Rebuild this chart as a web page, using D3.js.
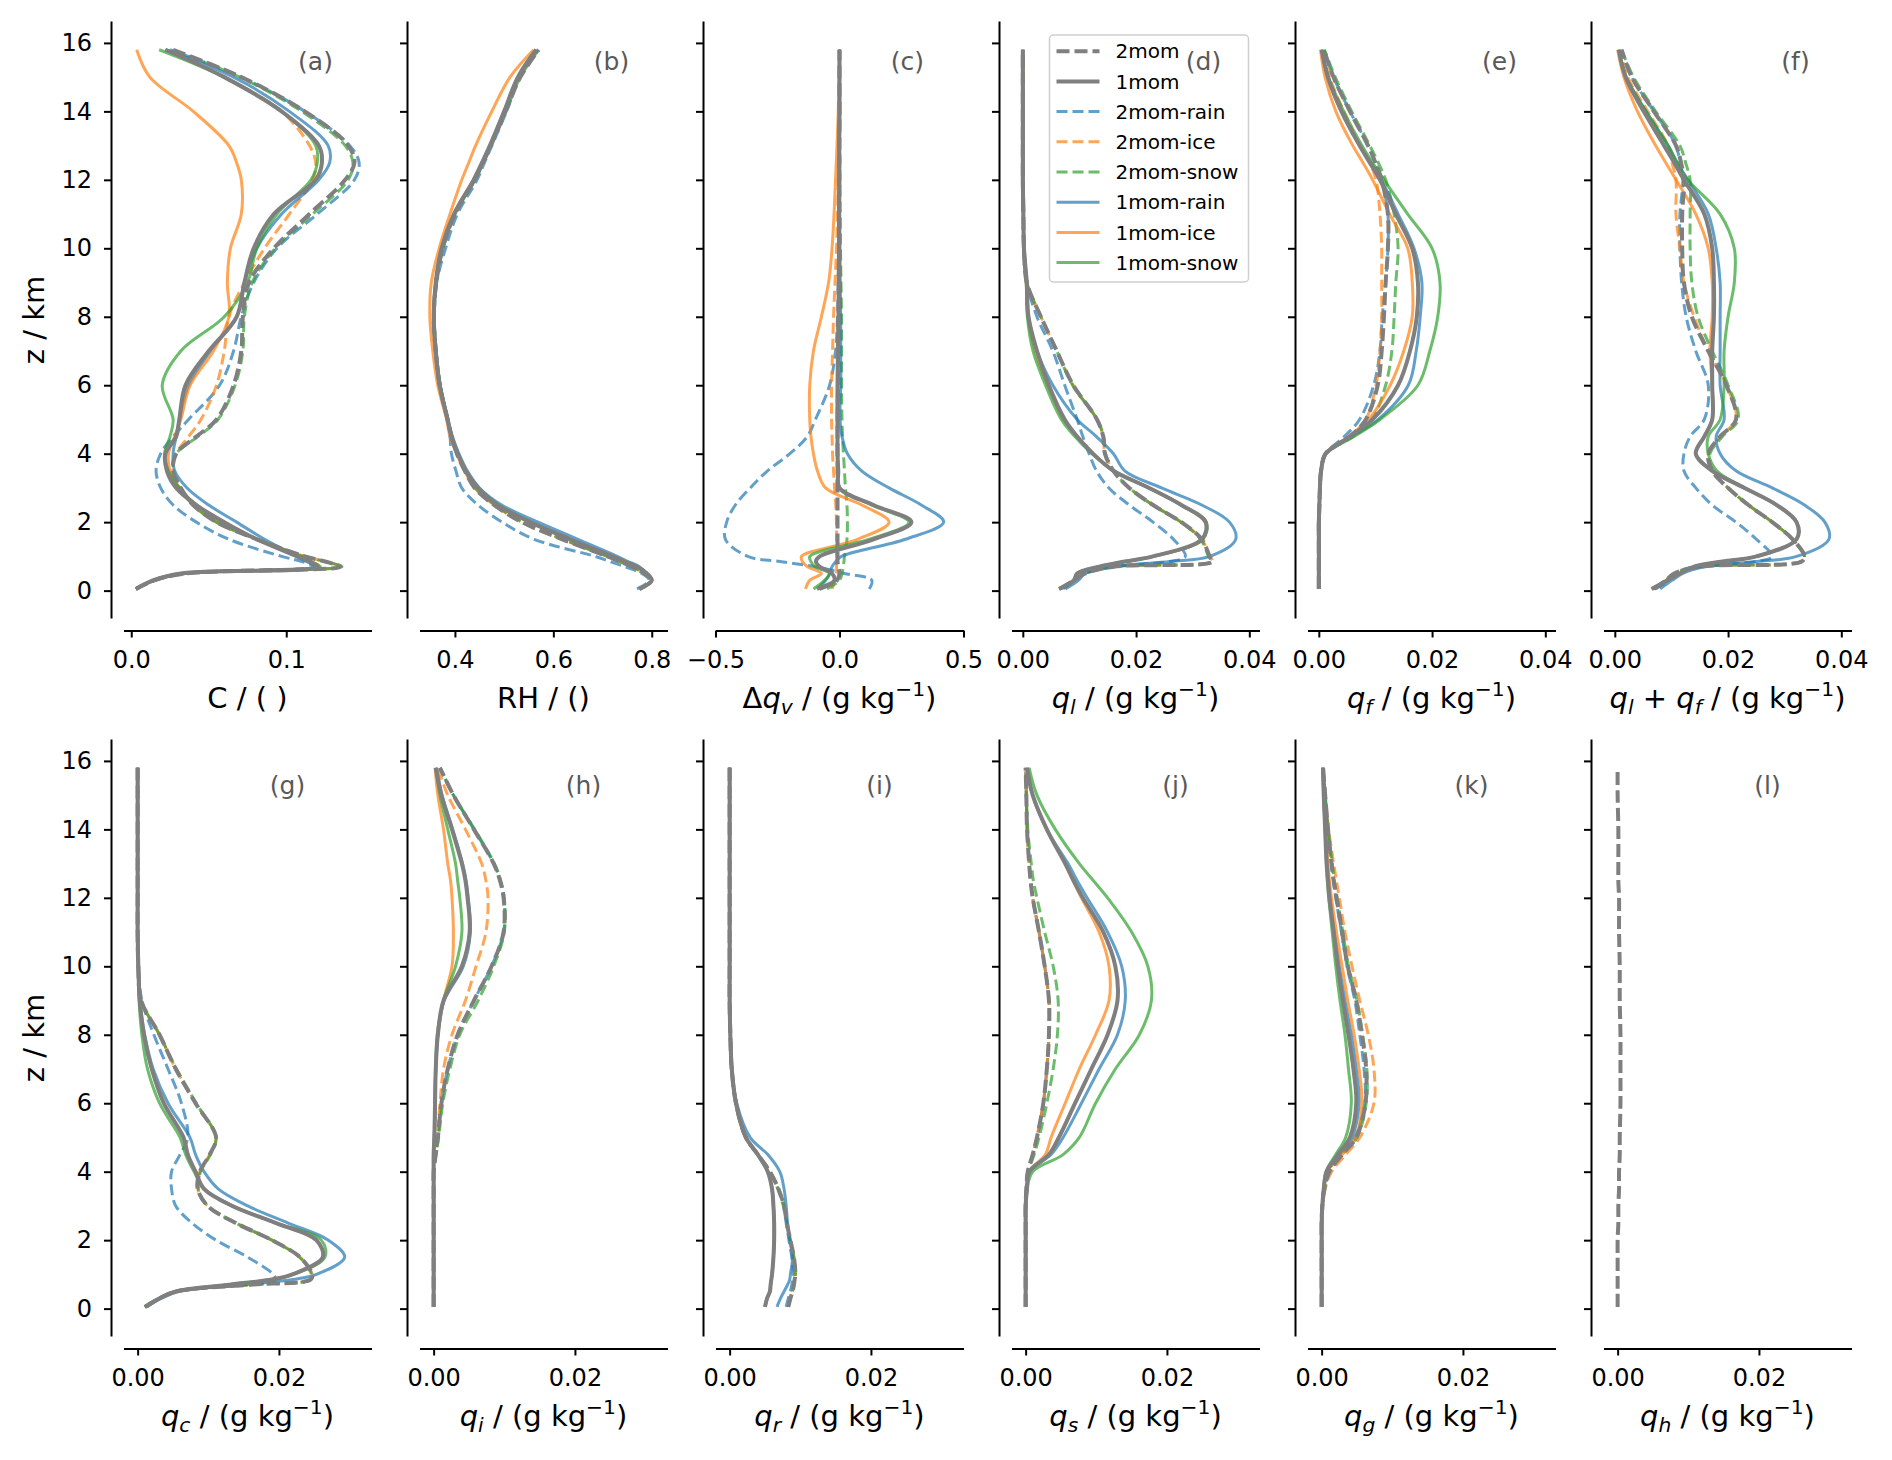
<!DOCTYPE html>
<html>
<head>
<meta charset="utf-8">
<script src="https://cdn.jsdelivr.net/npm/d3@7"></script>
<style>
body { margin:0; background:#fff; }
svg { display:block; }
text { font-family:"DejaVu Sans", sans-serif; white-space:pre; }
</style>
</head>
<body>
<script>

const heights = [0.05, 0.3, 0.5, 0.7, 0.85, 1.0,
                 1.5, 2.0, 2.5, 3.0, 3.5, 4.0, 4.5, 5.0,
                 6.0, 7.0, 8.0, 9.0, 10.0, 11.0, 12.0, 12.5, 13.0, 14.0, 15.0, 15.8];

const seriesNames = ["2mom", "1mom", "2mom-rain", "2mom-ice", "2mom-snow", "1mom-rain", "1mom-ice", "1mom-snow"];

const zTicks = [0, 2, 4, 6, 8, 10, 12, 14, 16];
const ticksC = [0.0, 0.1];
const ticksRH = [0.4, 0.6, 0.8];
const ticksDqv = [-0.5, 0.0, 0.5];
const ticksTop = [0.00, 0.02, 0.04];
const ticksBottom = [0.00, 0.02];

// (a) cloud fraction, rows follow seriesNames
const cloudFrac = [
  [.003,.015,.035,.135,.125,.112, .081,.055,.040,.032,.027,.029,.042,.055, .066,.071,.072,.076,.092,.115,.138,.144,.140,.112,.071,.027],
  [.003,.014,.032,.120,.115,.107, .081,.060,.042,.029,.023,.022,.029,.031, .035,.050,.068,.073,.079,.092,.119,.123,.121,.097,.060,.022],
  [.003,.015,.034,.118,.110,.097, .063,.042,.027,.019,.016,.019,.027,.037, .057,.066,.071,.079,.094,.120,.144,.147,.141,.112,.071,.025],
  [.003,.015,.035,.135,.125,.112, .081,.055,.040,.031,.027,.029,.037,.045, .055,.060,.063,.073,.086,.102,.117,.119,.115,.097,.060,.023],
  [.003,.015,.035,.136,.125,.112, .081,.055,.040,.032,.027,.029,.043,.056, .067,.072,.073,.078,.093,.117,.140,.143,.138,.110,.070,.026],
  [.003,.015,.034,.119,.113,.107, .086,.068,.050,.036,.028,.027,.029,.031, .037,.051,.068,.073,.081,.097,.121,.128,.127,.102,.066,.022],
  [.003,.014,.032,.121,.116,.110, .081,.059,.042,.031,.025,.024,.028,.032, .038,.053,.063,.062,.064,.071,.071,.068,.063,.040,.012,.0035],
  [.003,.014,.032,.122,.116,.110, .081,.059,.042,.031,.024,.0215,.025,.027, .020,.032,.060,.075,.081,.094,.116,.120,.119,.097,.060,.018]
];

// (b) relative humidity
const relHum = [
  [.775,.80,.785,.76,.735,.71, .618,.536,.48,.44,.42,.404,.393,.385, .369,.361,.357,.362,.375,.40,.44,.457,.473,.503,.533,.57],
  [.775,.80,.79,.77,.745,.72, .634,.553,.487,.447,.422,.406,.393,.385, .369,.361,.357,.361,.373,.398,.438,.455,.471,.50,.528,.565],
  [.77,.795,.78,.745,.715,.685, .561,.496,.447,.414,.402,.393,.39,.385, .37,.362,.358,.363,.381,.405,.445,.46,.475,.505,.532,.57],
  [.775,.80,.785,.76,.735,.71, .618,.536,.48,.44,.42,.404,.393,.385, .369,.36,.356,.362,.375,.40,.44,.456,.472,.50,.53,.568],
  [.775,.80,.785,.76,.735,.71, .62,.538,.482,.442,.421,.405,.394,.386, .37,.362,.358,.363,.376,.40,.441,.457,.473,.503,.533,.57],
  [.775,.80,.79,.775,.752,.73, .65,.569,.495,.45,.425,.408,.395,.386, .37,.361,.357,.361,.373,.398,.44,.456,.472,.50,.528,.565],
  [.775,.80,.79,.77,.745,.72, .634,.553,.487,.447,.42,.404,.39,.383, .365,.355,.349,.352,.368,.39,.414,.428,.442,.475,.512,.56],
  [.775,.80,.79,.77,.745,.72, .636,.555,.488,.447,.422,.406,.393,.385, .37,.361,.357,.361,.374,.398,.438,.455,.471,.50,.528,.565]
];

// (c) water vapour difference
const dQv = [
  [-.08,-.01,0,-.005,-.008,-.008, -.008,-.008,-.008,-.008,-.008,-.008,-.008,-.008, -.006,-.005,-.004,-.003,-.002,-.002,-.001,-.001,-.001,0,0,0],
  [-.09,-.02,-.03,-.08,-.095,-.08, .137,.29,.137,0,-.005,-.008,-.008,-.008, -.008,-.006,-.004,-.003,-.002,-.002,-.001,-.001,-.001,0,0,0],
  [.12,.13,.02,-.10,-.24,-.37, -.46,-.455,-.42,-.36,-.29,-.20,-.13,-.097, -.04,-.016,-.008,-.004,-.003,-.002,-.001,-.001,0,0,0,0],
  [-.03,-.02,-.012,-.012,-.012,-.012, -.012,-.012,-.015,-.02,-.024,-.028,-.03,-.032, -.032,-.028,-.024,-.018,-.012,-.008,-.005,-.004,-.003,-.002,-.001,0],
  [-.05,0,.01,.015,.018,.02, .03,.032,.03,.024,.02,.016,.012,.01, .008,.008,.008,.006,.004,.003,.002,.002,.001,.001,0,0],
  [-.09,-.056,-.04,-.03,-.015,.008, .266,.42,.33,.2,.089,.032,.01,.002, .005,.005,.005,.003,.002,.001,0,0,0,0,0,0],
  [-.137,-.12,-.073,-.13,-.15,-.153, .073,.2,.09,-.056,-.089,-.105,-.115,-.12, -.12,-.105,-.073,-.044,-.03,-.022,-.016,-.013,-.01,-.005,-.002,0],
  [-.105,-.06,-.04,-.10,-.115,-.12, .12,.28,.13,0,-.005,-.008,-.008,-.008, -.008,-.006,-.004,-.003,-.002,-.002,-.001,-.001,-.001,0,0,0]
];

// (d) liquid
const qLiq = [
  [.0065,.009,.011,.016,.0335,.033, .0316,.028,.023,.0188,.016,.0145,.0142,.0131, .0089,.006,.0032,.0007,.0002,.0001,0,0,0,0,0,0],
  [.0064,.009,.0096,.0135,.018,.023, .0316,.0323,.028,.0223,.016,.0124,.0096,.0074, .0046,.0025,.001,.0007,.0002,.0001,0,0,0,0,0,0],
  [.0071,.0092,.011,.016,.026,.0287, .0266,.023,.0188,.0152,.013,.0117,.0106,.0096, .0074,.0053,.0025,.0007,.0002,.0001,0,0,0,0,0,0],
  [.0065,.009,.011,.016,.0335,.033, .0316,.028,.023,.0188,.016,.0145,.0142,.0131, .0089,.006,.0032,.0007,.0002,.0001,0,0,0,0,0,0],
  [.0065,.009,.011,.016,.0333,.0328, .0314,.0279,.023,.0188,.016,.0146,.0143,.0131, .0088,.006,.0032,.0007,.0002,.0001,0,0,0,0,0,0],
  [.0075,.0098,.011,.016,.026,.033, .0376,.0365,.0316,.0245,.018,.016,.013,.0096, .0053,.0025,.001,.0007,.0002,.0001,0,0,0,0,0,0],
  [.0064,.009,.0096,.0135,.018,.023, .0318,.0322,.028,.0223,.016,.0124,.0096,.0072, .0044,.0022,.0009,.0006,.0002,.0001,0,0,0,0,0,0],
  [.0064,.009,.0096,.0135,.018,.023, .0318,.0324,.028,.0223,.016,.0122,.0092,.0068, .004,.0018,.0008,.0006,.0002,.0001,0,0,0,0,0,0]
];

// (e) frozen
const qFroz = [
  [0,0,0,0,0,0, 0,0,.0001,.0002,.0004,.0012,.0055,.0083, .0104,.0111,.0115,.0118,.0122,.0122,.0111,.01,.0087,.0055,.0026,.0009],
  [0,0,0,0,0,0, 0,0,.0001,.0002,.0004,.0012,.0055,.0095, .014,.0161,.0173,.0175,.0165,.0136,.0108,.009,.0072,.004,.0016,.0005],
  [0,0,0,0,0,0, 0,0,.0001,.0002,.0004,.0012,.0045,.0072, .0097,.0108,.0112,.0118,.0122,.0122,.0111,.01,.0087,.0055,.0026,.0009],
  [0,0,0,0,0,0, 0,0,.0001,.0002,.0004,.0012,.0055,.0083, .0101,.0108,.0111,.0111,.0111,.0108,.0101,.009,.0072,.0044,.0019,.0007],
  [0,0,0,0,0,0, 0,0,.0001,.0002,.0004,.0012,.006,.0094, .0118,.0129,.0133,.0136,.014,.0133,.0118,.0105,.009,.0058,.0029,.001],
  [0,0,0,0,0,0, 0,0,.0001,.0002,.0004,.0012,.0058,.0105, .0158,.0172,.0179,.0182,.0168,.014,.011,.0092,.0072,.004,.0016,.0005],
  [0,0,0,0,0,0, 0,0,.0001,.0002,.0004,.0012,.0052,.0088, .0126,.015,.0165,.0165,.0157,.0125,.0095,.0078,.006,.003,.0011,.0003],
  [0,0,0,0,0,0, 0,0,.0001,.0002,.0004,.0013,.0062,.0108, .0175,.0196,.021,.0214,.02,.0157,.0115,.0095,.0076,.0044,.0017,.0005]
];

// (f) liquid + frozen
const qTot = [
  [.0069,.009,.0105,.015,.033,.0335, .0314,.0278,.0236,.02,.0172,.0165,.0186,.0214, .0197,.0165,.0136,.0122,.0119,.0119,.0122,.0117,.0108,.0069,.003,.0012],
  [.0065,.0093,.0115,.014,.019,.025, .0321,.0321,.0286,.0229,.0172,.0143,.0158,.0172, .0172,.0172,.0175,.0175,.0172,.0158,.0122,.0105,.0087,.0051,.0019,.0007],
  [.0072,.0094,.0105,.014,.025,.0278, .025,.0214,.0172,.0143,.0122,.0122,.0133,.0158, .0165,.0143,.0126,.0118,.0115,.0115,.012,.0115,.0108,.0069,.003,.0012],
  [.0069,.009,.0105,.015,.033,.0335, .0314,.0278,.0236,.02,.0172,.0165,.0186,.0214, .0197,.0165,.014,.0122,.0115,.0108,.0108,.0101,.0094,.0058,.0023,.0009],
  [.0069,.009,.0105,.015,.033,.0335, .0314,.0278,.0236,.02,.0172,.0168,.019,.0218, .02,.0172,.0147,.0136,.0133,.0133,.0133,.0125,.0115,.0072,.0033,.0012],
  [.008,.0101,.012,.016,.025,.0321, .0378,.0371,.0335,.0278,.0214,.0186,.0179,.0193, .0186,.0186,.0186,.0186,.0179,.0165,.0129,.011,.0094,.0055,.002,.0007],
  [.0065,.0093,.0115,.014,.019,.025, .0321,.0321,.0286,.0229,.0172,.0143,.0158,.0172, .0172,.0168,.0172,.0172,.0165,.0143,.0108,.009,.0072,.004,.0016,.0005],
  [.0065,.0093,.0115,.014,.019,.025, .0321,.0321,.0286,.0229,.018,.0165,.0165,.0186, .0193,.0193,.02,.0211,.0211,.0186,.0129,.011,.0094,.0055,.002,.0007]
];

// (g) cloud water
const qCloud = [
  [.001,.0031,.0054,.016,.0245,.0247, .023,.019,.0139,.0099,.0085,.0088,.0102,.0111, .0082,.0054,.0031,.0005,.0001,0,0,0,0,0,0,0],
  [.0011,.0031,.0054,.013,.019,.0219, .0262,.0253,.0196,.0134,.0094,.0082,.0071,.0065, .0037,.002,.0009,.0003,.0001,0,0,0,0,0,0,0],
  [.0011,.0031,.0054,.014,.0195,.0192, .0156,.0111,.0077,.0054,.0048,.0048,.006,.0071, .0062,.0043,.0023,.0006,.0001,0,0,0,0,0,0,0],
  [.001,.0031,.0054,.016,.0245,.0247, .023,.019,.0139,.0099,.0085,.0088,.0102,.0111, .0082,.0054,.0031,.0005,.0001,0,0,0,0,0,0,0],
  [.001,.0031,.0054,.016,.0244,.0246, .0229,.019,.0139,.0099,.0086,.0089,.0103,.0111, .0083,.0055,.0031,.0005,.0001,0,0,0,0,0,0,0],
  [.0013,.0033,.0058,.015,.022,.0253, .0293,.027,.0213,.0156,.0114,.0094,.0082,.0074, .0043,.0022,.001,.0003,.0001,0,0,0,0,0,0,0],
  [.0011,.0031,.0054,.013,.019,.0219, .0262,.0253,.0196,.0134,.0094,.0082,.0071,.0065, .0038,.002,.0009,.0003,.0001,0,0,0,0,0,0,0],
  [.0011,.0031,.0054,.013,.019,.022, .0265,.026,.0196,.0134,.0094,.008,.0068,.006, .0031,.0014,.0006,.0002,.0001,0,0,0,0,0,0,0]
];

// (h) ice
const qIce = [
  [0,0,0,0,0,0, 0,0,0,0,0,0,.0003,.0006, .0011,.002,.0034,.0057,.0082,.0099,.0099,.0094,.0085,.0057,.0028,.0009],
  [0,0,0,0,0,0, 0,0,0,0,0,0,0,.0001, .0002,.0003,.0006,.0014,.004,.0051,.0048,.0045,.004,.0026,.0011,.0003],
  [0,0,0,0,0,0, 0,0,0,0,0,0,.0003,.0006, .0011,.002,.0034,.0057,.0082,.0099,.0099,.0094,.0085,.0057,.0028,.0009],
  [0,0,0,0,0,0, 0,0,0,0,0,0,.0002,.0005, .0009,.0014,.0026,.0045,.006,.0074,.0077,.0074,.0068,.0045,.002,.0006],
  [0,0,0,0,0,0, 0,0,0,0,0,0,.0003,.0007, .0013,.0023,.0037,.0063,.0085,.01,.01,.0095,.0086,.0058,.0028,.0009],
  [0,0,0,0,0,0, 0,0,0,0,0,0,0,.0001, .0002,.0003,.0006,.0015,.0042,.0052,.0049,.0046,.0041,.0027,.0012,.0004],
  [0,0,0,0,0,0, 0,0,0,0,0,0,0,.0001, .0002,.0003,.0006,.0014,.0026,.0028,.0026,.0024,.002,.0014,.0006,.0002],
  [0,0,0,0,0,0, 0,0,0,0,0,0,0,.0001, .0002,.0003,.0005,.0014,.0031,.004,.0037,.0034,.0031,.002,.0009,.0003]
];

// (i) rain
const qRain = [
  [.0083,.0086,.0089,.0091,.0092,.0093, .0091,.0086,.0081,.0077,.0069,.0057,.004,.0023, .0009,.0003,.0001,0,0,0,0,0,0,0,0,0],
  [.005,.0053,.0057,.0058,.0059,.006, .0062,.0063,.0063,.0062,.006,.0054,.004,.0023, .0009,.0003,.0001,0,0,0,0,0,0,0,0,0],
  [.008,.0083,.0086,.0088,.0089,.009, .0088,.0084,.008,.0076,.0068,.0057,.004,.0023, .0009,.0003,.0001,0,0,0,0,0,0,0,0,0],
  [.0083,.0086,.0089,.0091,.0092,.0093, .0091,.0086,.0081,.0077,.0069,.0057,.004,.0023, .0009,.0003,.0001,0,0,0,0,0,0,0,0,0],
  [.0083,.0086,.0089,.0091,.0092,.0093, .0091,.0086,.0081,.0077,.0069,.0057,.004,.0023, .0009,.0003,.0001,0,0,0,0,0,0,0,0,0],
  [.0067,.0072,.0077,.0082,.0085,.0086, .0089,.0085,.0082,.008,.0077,.0071,.0054,.0029, .001,.0003,.0001,0,0,0,0,0,0,0,0,0],
  [.005,.0053,.0057,.0058,.0059,.006, .0062,.0063,.0063,.0062,.006,.0054,.004,.0023, .0009,.0003,.0001,0,0,0,0,0,0,0,0,0],
  [.005,.0053,.0057,.0058,.0059,.006, .0062,.0063,.0063,.0062,.006,.0054,.004,.0023, .0009,.0003,.0001,0,0,0,0,0,0,0,0,0]
];

// (j) snow
const qSnow = [
  [0,0,0,0,0,0, 0,0,0,0,.0001,.0003,.001,.0016, .0025,.003,.0033,.0033,.0027,.0019,.001,.0007,.0005,.0002,.0001,0],
  [0,0,0,0,0,0, 0,0,0,0,.0002,.0005,.0033,.0047, .007,.0093,.0116,.013,.0127,.011,.0081,.0068,.0056,.003,.001,.0002],
  [0,0,0,0,0,0, 0,0,0,0,.0001,.0003,.001,.0016, .0025,.003,.0033,.0033,.0027,.0019,.001,.0007,.0005,.0002,.0001,0],
  [0,0,0,0,0,0, 0,0,0,0,.0001,.0003,.001,.0016, .0025,.003,.0033,.0033,.0027,.0019,.001,.0007,.0005,.0002,.0001,0],
  [0,0,0,0,0,0, 0,0,0,0,.0001,.0004,.0012,.0019, .003,.0039,.0045,.0046,.0039,.0027,.0016,.0011,.0008,.0003,.0001,0],
  [0,0,0,0,0,0, 0,0,0,0,.0002,.0006,.0036,.0053, .0079,.0104,.013,.0141,.0136,.0116,.0087,.0073,.006,.003,.001,.0002],
  [0,0,0,0,0,0, 0,0,0,0,.0002,.0005,.0028,.0036, .0056,.0076,.0099,.0118,.0118,.0104,.0079,.0067,.0056,.003,.001,.0002],
  [0,0,0,0,0,0, 0,0,0,0,.0002,.001,.0053,.0076, .0099,.0127,.0161,.0178,.0173,.015,.0116,.0096,.0076,.0042,.0016,.0005]
];

// (k) graupel
const qGraupel = [
  [0,0,0,0,0,0, 0,0,0,.0001,.0004,.0011,.0029,.0049, .0062,.0063,.0057,.0049,.0037,.0029,.0021,.0017,.0014,.0009,.0005,.0002],
  [0,0,0,0,0,0, 0,0,0,.0001,.0003,.0007,.0023,.004, .0049,.0045,.0038,.003,.0023,.0017,.0011,.0009,.0007,.0005,.0003,.0002],
  [0,0,0,0,0,0, 0,0,0,.0001,.0004,.0011,.0028,.0047, .0061,.006,.0054,.0047,.0036,.0028,.002,.0017,.0014,.0009,.0005,.0002],
  [0,0,0,0,0,0, 0,0,0,.0001,.0005,.0014,.0034,.0054, .0074,.0074,.0066,.0054,.0043,.0033,.0025,.0021,.0017,.001,.0005,.0002],
  [0,0,0,0,0,0, 0,0,0,.0001,.0004,.0011,.0029,.005, .0063,.0064,.0058,.005,.0038,.003,.0022,.0018,.0015,.0009,.0005,.0002],
  [0,0,0,0,0,0, 0,0,0,.0001,.0003,.0008,.0026,.0043, .0053,.0049,.0042,.0033,.0025,.0018,.0012,.001,.0008,.0005,.0003,.0002],
  [0,0,0,0,0,0, 0,0,0,.0001,.0003,.0008,.0029,.0048, .0057,.0053,.0046,.0037,.0029,.0021,.0014,.0011,.0009,.0006,.0003,.0002],
  [0,0,0,0,0,0, 0,0,0,.0001,.0003,.0006,.002,.0034, .0042,.0038,.0033,.0026,.002,.0015,.001,.0008,.0007,.0005,.0003,.0002]
];

// (l) hail, only the 2mom run carries it
const qHail = [
  [0,0,0,0,0,0, 0,0,.0001,.0001,.0002,.0002,.0003,.0003, .0004,.0004,.0004,.0003,.0003,.0002,.0002,.0001,.0001,.0001,0,0],
  null, null, null, null, null, null, null
];

// styles
const FONT = "DejaVu Sans, sans-serif";
const lineColor = {"2mom":"#7f7f7f", "1mom":"#7f7f7f",
  "2mom-rain":"#1f77b4", "2mom-ice":"#ff7f0e", "2mom-snow":"#2ca02c",
  "1mom-rain":"#1f77b4", "1mom-ice":"#ff7f0e", "1mom-snow":"#2ca02c"};
const isGrey = n => n === "2mom" || n === "1mom";
const isDashed = n => n.startsWith("2mom");
const drawOrder = [2, 3, 4, 5, 6, 7, 0, 1];

function styleLine(sel, name) {
  sel.attr("fill", "none")
    .attr("stroke", lineColor[name])
    .attr("stroke-opacity", isGrey(name) ? 1 : 0.7)
    .attr("stroke-width", isGrey(name) ? 4 : 3)
    .attr("stroke-dasharray", isDashed(name) ? (isGrey(name) ? "13,5" : "11,5") : null);
}

// panels
const topDom = [-0.002, 0.0418], botDom = [-0.002, 0.0331];
const panels = [
  {key:"a", values:cloudFrac, domain:[-0.005, 0.155], ticks:ticksC, fmt:".1f", title:"C / ( )"},
  {key:"b", values:relHum, domain:[0.328, 0.832], ticks:ticksRH, fmt:".1f", title:"RH / ()"},
  {key:"c", values:dQv, domain:[-0.5, 0.5], ticks:ticksDqv, fmt:".1f", title:"Δ*q*_{v} / (g kg^{−1})"},
  {key:"d", values:qLiq, domain:topDom, ticks:ticksTop, fmt:".2f", title:"*q*_{l} / (g kg^{−1})"},
  {key:"e", values:qFroz, domain:topDom, ticks:ticksTop, fmt:".2f", title:"*q*_{f} / (g kg^{−1})"},
  {key:"f", values:qTot, domain:topDom, ticks:ticksTop, fmt:".2f", title:"*q*_{l} + *q*_{f} / (g kg^{−1})"},
  {key:"g", values:qCloud, domain:botDom, ticks:ticksBottom, fmt:".2f", title:"*q*_{c} / (g kg^{−1})"},
  {key:"h", values:qIce, domain:botDom, ticks:ticksBottom, fmt:".2f", title:"*q*_{i} / (g kg^{−1})"},
  {key:"i", values:qRain, domain:botDom, ticks:ticksBottom, fmt:".2f", title:"*q*_{r} / (g kg^{−1})"},
  {key:"j", values:qSnow, domain:botDom, ticks:ticksBottom, fmt:".2f", title:"*q*_{s} / (g kg^{−1})"},
  {key:"k", values:qGraupel, domain:botDom, ticks:ticksBottom, fmt:".2f", title:"*q*_{g} / (g kg^{−1})"},
  {key:"l", values:qHail, domain:botDom, ticks:ticksBottom, fmt:".2f", title:"*q*_{h} / (g kg^{−1})"}
];

// layout
const W = 1892, H = 1460;
const left0 = 123.5, colStep = 296, panelW = 248;
const rowTop = [21, 739], rowH = 597, spineOff = 12.5;

const svg = d3.select("body").append("svg")
    .attr("width", W)
    .attr("height", H);

const yScales = rowTop.map(t => d3.scaleLinear().domain([-0.8, 16.64]).range([t + rowH, t]));

// mini markup: *x* italic, _{x} subscript, ^{x} superscript
function richText(textSel, str, fs) {
  const parts = str.split(/(\*[^*]+\*|_\{[^}]*\}|\^\{[^}]*\})/).filter(s => s.length);
  let shift = 0;
  parts.forEach(p => {
    let txt = p, italic = false, small = false, target = 0;
    if (p[0] === "*") { txt = p.slice(1, -1); italic = true; }
    else if (p.startsWith("_{")) { txt = p.slice(2, -1); italic = true; small = true; target = 0.2 * fs; }
    else if (p.startsWith("^{")) { txt = p.slice(2, -1); small = true; target = -0.42 * fs; }
    const ts = textSel.append("tspan").text(txt);
    if (target - shift !== 0) ts.attr("dy", target - shift);
    shift = target;
    if (italic) ts.attr("font-style", "italic");
    if (small) ts.attr("font-size", fs * 0.7);
  });
}

function styleAxis(g) {
  g.attr("font-size", 24).attr("font-family", FONT);
  g.select(".domain").attr("stroke", "#000").attr("stroke-width", 2);
  g.selectAll(".tick line").attr("stroke", "#000").attr("stroke-width", 2);
  g.selectAll(".tick text").attr("fill", "#000");
}

panels.forEach((p, i) => {
  const row = i < 6 ? 0 : 1, col = i % 6;
  const left = left0 + col * colStep, top = rowTop[row], bottom = top + rowH;
  const x = d3.scaleLinear().domain(p.domain).range([left, left + panelW]);
  const y = yScales[row];
  p.left = left; p.top = top; p.row = row;

  //X axis, offset spine
  svg.append("g")
      .attr("transform", `translate(0,${bottom + spineOff})`)
      .call(d3.axisBottom(x)
        .tickValues(p.ticks)
        .tickFormat(d3.format(p.fmt))
        .tickSize(7)
        .tickSizeOuter(0)
        .tickPadding(13))
      .call(styleAxis);

  //Y axis, labels only in the first column
  svg.append("g")
      .attr("transform", `translate(${left - spineOff},0)`)
      .call(d3.axisLeft(y)
        .tickValues(zTicks)
        .tickFormat(col === 0 ? d3.format("d") : () => "")
        .tickSize(7)
        .tickSizeOuter(0)
        .tickPadding(12))
      .call(styleAxis);

  //Profiles
  const line = d3.line()
      .curve(d3.curveCatmullRom)
      .x(d => x(d[1]))
      .y(d => y(d[0]));

  drawOrder.forEach(k => {
    const vals = p.values[k];
    if (!vals) return;
    svg.append("path")
        .datum(heights.map((z, j) => [z, vals[j]]))
        .attr("d", line)
        .call(styleLine, seriesNames[k]);
  });

  //Axis titles
  const t = svg.append("text")
      .attr("x", left + panelW / 2)
      .attr("y", bottom + 90)
      .attr("text-anchor", "middle")
      .attr("font-size", 29)
      .attr("fill", "#000");
  richText(t, p.title, 29);

  if (col === 0) {
    svg.append("text")
        .attr("transform", `translate(44,${top + 299}) rotate(-90)`)
        .attr("text-anchor", "middle")
        .attr("font-size", 29)
        .attr("fill", "#000")
        .text("z / km");
  }
});

//Legend in panel (d)
const pd = panels[3];
const lgX = pd.left + panelW - 11 - 199, lgY = 35;
const legend = svg.append("g").attr("transform", `translate(${lgX},${lgY})`);
legend.append("rect")
    .attr("width", 199)
    .attr("height", 247)
    .attr("rx", 4)
    .attr("fill", "#fff")
    .attr("fill-opacity", 0.8)
    .attr("stroke", "#cfcfcf")
    .attr("stroke-width", 1.5);
seriesNames.forEach((n, k) => {
  const cy = 16.2 + 30.2 * k;
  legend.append("line")
      .attr("x1", 7).attr("x2", 50)
      .attr("y1", cy).attr("y2", cy)
      .call(styleLine, n);
  legend.append("text")
      .attr("x", 66)
      .attr("y", cy + 7.2)
      .attr("font-size", 20)
      .attr("fill", "#000")
      .text(n);
});

//Panel letters
panels.forEach(p => {
  svg.append("text")
      .attr("x", p.left + (p.row === 0 ? 192 : 164))
      .attr("y", p.top + (p.row === 0 ? 49 : 55))
      .attr("text-anchor", "middle")
      .attr("font-family", "Liberation Sans, Arial, sans-serif")
      .attr("font-size", 25)
      .attr("fill", "#595959")
      .text(`(${p.key})`);
});

</script>
</body>
</html>
